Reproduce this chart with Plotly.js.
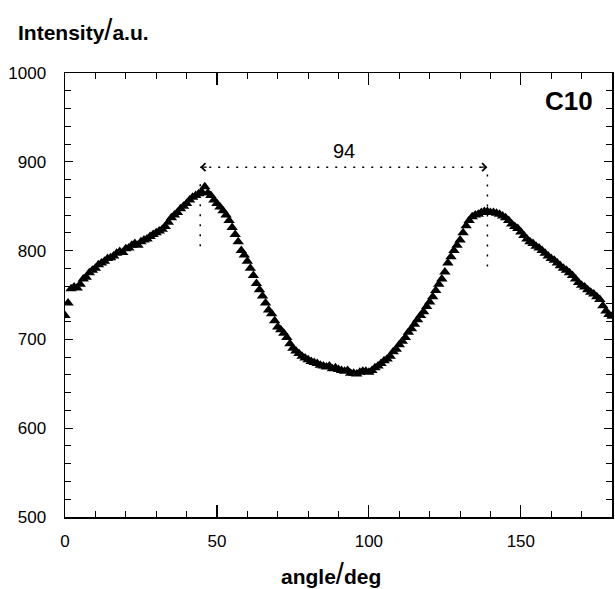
<!DOCTYPE html>
<html>
<head>
<meta charset="utf-8">
<script src="https://cdn.plot.ly/plotly-3.0.1.min.js"></script>
<style>html,body{margin:0;padding:0;background:#fff;}#chart{width:615px;height:589px;}</style>
</head>
<body>
<div id="chart"></div>
<script>
// Angle (deg) and intensity (a.u.)
const angles = [];
for (let a = 0; a <= 180; a++) angles.push(a);
const intensity = [
 727,741,757,759,758,762,768,770,775,778,
 780,784,786,788,791,792,794,797,799,798,
 802,803,806,808,806,810,812,813,816,818,
 820,822,824,827,832,837,840,843,847,850,
 853,857,860,862,864,866,872,865,862,857,
 853,849,845,840,834,826,818,810,800,795,
 788,780,772,763,756,749,741,733,729,721,
 714,711,707,702,695,690,687,684,681,679,
 677,675,674,673,671,670,669,670,667,668,
 666,665,664,665,662,662,661,663,664,664,
 663,665,668,670,673,676,678,681,686,689,
 694,698,702,708,712,717,722,727,731,737,
 742,748,755,762,768,776,786,793,800,806,
 812,820,828,834,838,840,841,843,844,844,
 843,843,842,841,839,837,834,830,827,825,
 821,817,813,810,808,805,803,800,797,794,
 791,789,786,783,780,778,775,772,768,764,
 761,759,756,753,751,748,745,738,732,728,
 726
];
// Peak markers and separation label
const peakAngles = [44.5, 139.0];
const peakLineTop = [877, 888];
const peakLineBottom = [805, 782];
const arrowLevel = 894;
const separationLabel = "94";
const sampleLabel = "C10";
const xTickVals = [0, 50, 100, 150];
const yTickVals = [500, 600, 700, 800, 900, 1000];

const FONT = '"Liberation Sans", Arial, Helvetica, sans-serif';

const trace = {
  x: angles, y: intensity, type: 'scatter', mode: 'markers',
  marker: {symbol: 'triangle-up', size: 10, color: '#000'},
  hoverinfo: 'skip'
};

const shapes = [
  {type: 'line', xref: 'x', yref: 'y', x0: peakAngles[0], x1: peakAngles[1], y0: arrowLevel, y1: arrowLevel,
   line: {color: '#000', width: 1.5, dash: '2px,7px'}},
  {type: 'line', xref: 'x', yref: 'y', x0: peakAngles[0], x1: peakAngles[0], y0: peakLineBottom[0], y1: peakLineTop[0],
   line: {color: '#000', width: 1.5, dash: '2px,8px'}},
  {type: 'line', xref: 'x', yref: 'y', x0: peakAngles[1], x1: peakAngles[1], y0: peakLineBottom[1], y1: peakLineTop[1],
   line: {color: '#000', width: 1.5, dash: '2px,8px'}}
];

const annotations = [
  {x: peakAngles[0], y: arrowLevel, xref: 'x', yref: 'y', ax: 8, ay: 0, axref: 'pixel', ayref: 'pixel',
   showarrow: true, arrowhead: 4, arrowsize: 1.2, arrowwidth: 1.3, arrowcolor: '#000', standoff: 0, text: ''},
  {x: peakAngles[1], y: arrowLevel, xref: 'x', yref: 'y', ax: -8, ay: 0, axref: 'pixel', ayref: 'pixel',
   showarrow: true, arrowhead: 4, arrowsize: 1.2, arrowwidth: 1.3, arrowcolor: '#000', standoff: 0, text: ''},
  {x: (peakAngles[0] + peakAngles[1]) / 2, y: arrowLevel, xref: 'x', yref: 'y', yanchor: 'bottom', yshift: 3,
   showarrow: false, text: separationLabel, font: {family: FONT, size: 20, color: '#000'}},
  {x: 0.969, y: 0.937, xref: 'paper', yref: 'paper', xanchor: 'right', yanchor: 'middle', showarrow: false,
   text: '<b>' + sampleLabel + '</b>', font: {family: FONT, size: 26, color: '#000'}},
  {x: -0.09, y: 1.097, xref: 'paper', yref: 'paper', xanchor: 'left', yanchor: 'middle', showarrow: false,
   text: '<b>Intensity</b><span style="font-size:29px">/</span><b>a.u.</b>', font: {family: FONT, size: 21, color: '#000'}},
  {x: 0.487, y: -0.128, xref: 'paper', yref: 'paper', xanchor: 'center', yanchor: 'middle', showarrow: false,
   text: '<b>angle</b><span style="font-size:29px">/</span><b>deg</b>', font: {family: FONT, size: 21, color: '#000'}}
];

const layout = {
  width: 615, height: 589,
  margin: {l: 65, r: 3, t: 73, b: 72},
  paper_bgcolor: '#fff', plot_bgcolor: '#fff',
  showlegend: false,
  font: {family: FONT, size: 17, color: '#000'},
  xaxis: {
    range: [0, 180], tickvals: xTickVals, ticks: 'inside', ticklen: 12, tickwidth: 1.2, tickcolor: '#000',
    showline: true, linewidth: 1.5, linecolor: '#000', mirror: 'ticks', showgrid: false, zeroline: false,
    ticklabelstandoff: 8,
    minor: {dtick: 10, tick0: 0, ticks: 'inside', ticklen: 6, tickwidth: 1, tickcolor: '#000', showgrid: false},
    automargin: false
  },
  yaxis: {
    range: [500, 1000], tickvals: yTickVals, ticks: 'inside', ticklen: 8, tickwidth: 1.2, tickcolor: '#000',
    showline: true, linewidth: 1.5, linecolor: '#000', mirror: 'ticks', showgrid: false, zeroline: false,
    ticklabelstandoff: 14,
    minor: {dtick: 20, tick0: 500, ticks: 'inside', ticklen: 6, tickwidth: 1, tickcolor: '#000', showgrid: false},
    automargin: false
  },
  shapes: shapes,
  annotations: annotations
};

Plotly.newPlot('chart', [trace], layout, {staticPlot: true, displayModeBar: false});
</script>
</body>
</html>
